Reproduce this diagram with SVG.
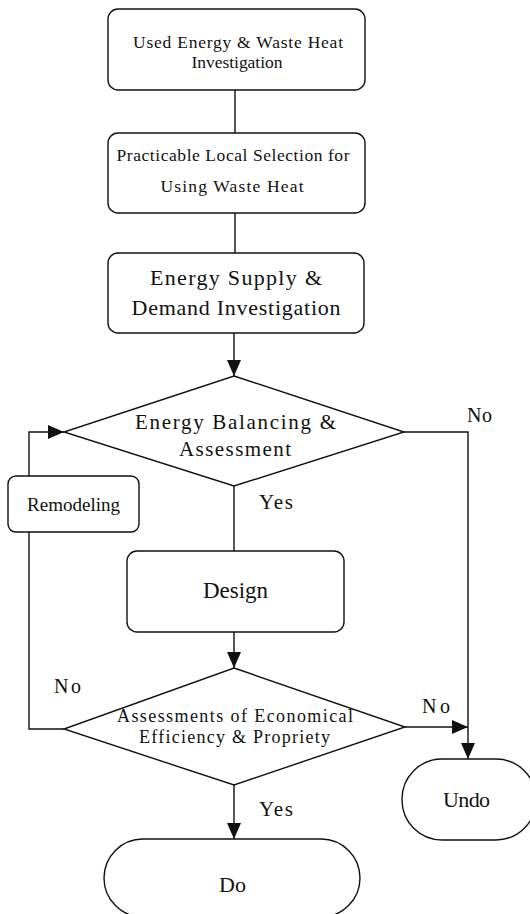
<svg xmlns="http://www.w3.org/2000/svg" width="530" height="914" viewBox="0 0 530 914">
<style>
.s{fill:#fff;stroke:#111;stroke-width:1.4}
.c{fill:none;stroke:#111;stroke-width:1.4}
text{font-family:"Liberation Serif","Times New Roman",serif;fill:#111;text-anchor:middle}
</style>
<defs>
<marker id="ah" markerUnits="userSpaceOnUse" markerWidth="16" markerHeight="14" refX="16" refY="7" orient="auto">
<path d="M0,0 L16,7 L0,14 Z" fill="#111"/>
</marker>
</defs>
<rect width="530" height="914" fill="#fff"/>
<g id="connectors">
<line class="c" x1="235" y1="90" x2="235" y2="133"/>
<line class="c" x1="235" y1="213" x2="235" y2="253"/>
<line class="c" x1="234" y1="333" x2="234" y2="376" marker-end="url(#ah)"/>
<polyline class="c" points="404,432 468,432 468,759" marker-end="url(#ah)"/>
<line class="c" x1="234" y1="486" x2="234" y2="551"/>
<line class="c" x1="234" y1="632" x2="234" y2="668" marker-end="url(#ah)"/>
<polyline class="c" points="64,729 29,729 29,532"/>
<polyline class="c" points="29,476 29,432 64,432" marker-end="url(#ah)"/>
<line class="c" x1="405" y1="727" x2="468" y2="727" marker-end="url(#ah)"/>
<line class="c" x1="234" y1="785" x2="234" y2="839" marker-end="url(#ah)"/>
<text x="479.5" y="422" font-size="20" textLength="25">No</text>
<text x="276" y="509" font-size="21" textLength="34">Yes</text>
<text x="67.5" y="693" font-size="20" textLength="27">No</text>
<text x="436" y="713" font-size="20" textLength="28">No</text>
<text x="276" y="816" font-size="21" textLength="34">Yes</text>
</g>
<g id="n1">
<rect class="s" x="108" y="9" width="257" height="81" rx="10"/>
<text x="238" y="48" font-size="17.5" textLength="210">Used Energy &amp; Waste Heat</text>
<text x="237" y="68" font-size="17.5" textLength="91">Investigation</text>
</g>
<g id="n2">
<rect class="s" x="108" y="133" width="257" height="80" rx="10"/>
<text x="233" y="161" font-size="17.5" textLength="233">Practicable Local Selection for</text>
<text x="232" y="192" font-size="17.5" textLength="143">Using Waste Heat</text>
</g>
<g id="n3">
<rect class="s" x="108" y="253" width="256" height="80" rx="10"/>
<text x="236" y="285" font-size="22" textLength="172">Energy Supply &amp;</text>
<text x="236" y="315" font-size="22" textLength="209">Demand Investigation</text>
</g>
<g id="n4">
<polygon class="s" points="234,376 404,432 234,486 64,432"/>
<text x="235.5" y="429" font-size="21" textLength="201">Energy Balancing &amp;</text>
<text x="235" y="456" font-size="21" textLength="112">Assessment</text>
</g>
<g id="n5">
<rect class="s" x="8" y="476" width="131" height="56" rx="8"/>
<text x="73.5" y="511" font-size="19" textLength="93">Remodeling</text>
</g>
<g id="n6">
<rect class="s" x="127" y="551" width="217" height="81" rx="10"/>
<text x="235.5" y="598" font-size="23" textLength="65">Design</text>
</g>
<g id="n7">
<polygon class="s" points="234,668 405,727 234,785 64,729"/>
<text x="235" y="722" font-size="18" textLength="236">Assessments of Economical</text>
<text x="234.5" y="743" font-size="18" textLength="191">Efficiency &amp; Propriety</text>
</g>
<g id="n8">
<rect class="s" x="402" y="759" width="134" height="81" rx="40"/>
<text x="466.5" y="807" font-size="22" textLength="47">Undo</text>
</g>
<g id="n9">
<rect class="s" x="104" y="839" width="256" height="78" rx="39"/>
<text x="232.5" y="892" font-size="22" textLength="27">Do</text>
</g>
</svg>
